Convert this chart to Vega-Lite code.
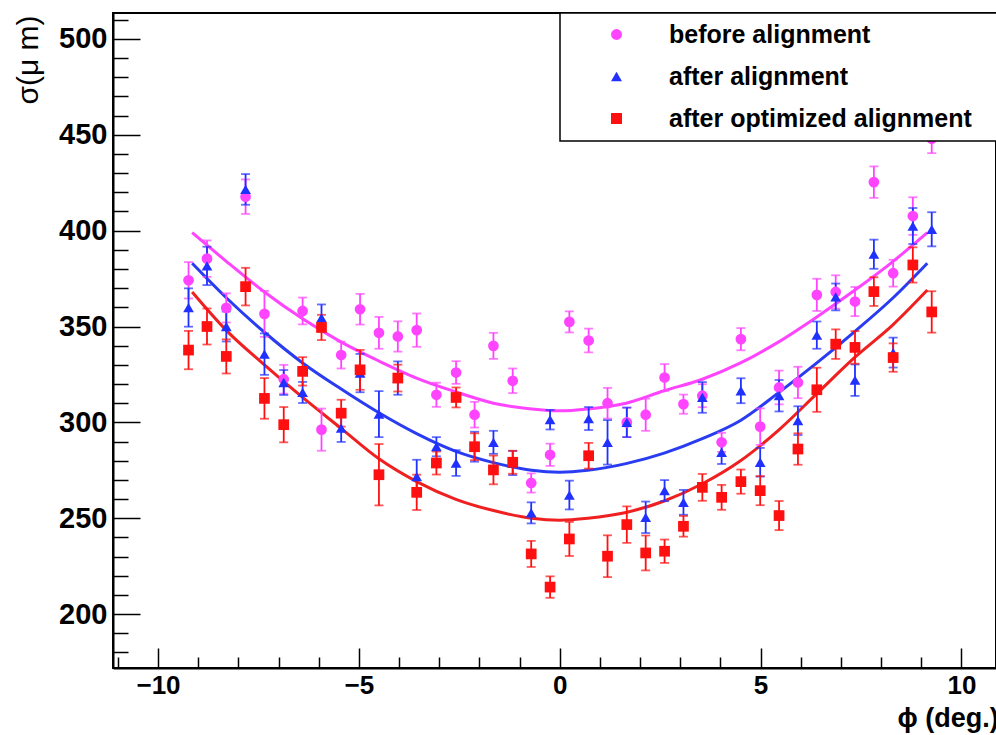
{
  "$schema": "https://vega.github.io/schema/vega-lite/v6.json",
  "autosize": "none",
  "width": 883,
  "height": 655,
  "padding": {"left": 113, "top": 13, "right": 0, "bottom": 67},
  "background": "white",
  "config": {
    "view": {"stroke": "black", "strokeWidth": 2},
    "font": "Liberation Sans",
    "legend": {"strokeColor": "black", "strokeWidth": 1.5},
    "axis": {"labelOverlap": false}
  },
  "datasets": {
    "pts": [
      {"s": "before alignment", "x": -9.24, "y": 374.1, "e": 9.5},
      {"s": "before alignment", "x": -8.78, "y": 385.4, "e": 9.5},
      {"s": "before alignment", "x": -8.30, "y": 359.7, "e": 7.6},
      {"s": "before alignment", "x": -7.82, "y": 417.7, "e": 9},
      {"s": "before alignment", "x": -7.35, "y": 356.6, "e": 12},
      {"s": "before alignment", "x": -6.87, "y": 322.5, "e": 7.5},
      {"s": "before alignment", "x": -6.40, "y": 358.1, "e": 7},
      {"s": "before alignment", "x": -5.93, "y": 296.2, "e": 11},
      {"s": "before alignment", "x": -5.44, "y": 335.1, "e": 7},
      {"s": "before alignment", "x": -4.97, "y": 359.0, "e": 8},
      {"s": "before alignment", "x": -4.50, "y": 346.7, "e": 8.3},
      {"s": "before alignment", "x": -4.03, "y": 344.8, "e": 7.9},
      {"s": "before alignment", "x": -3.56, "y": 348.1, "e": 8.7},
      {"s": "before alignment", "x": -3.07, "y": 314.4, "e": 6.3},
      {"s": "before alignment", "x": -2.58, "y": 326.0, "e": 5.9},
      {"s": "before alignment", "x": -2.12, "y": 304.0, "e": 6.7},
      {"s": "before alignment", "x": -1.65, "y": 339.9, "e": 6.8},
      {"s": "before alignment", "x": -1.17, "y": 321.7, "e": 6.4},
      {"s": "before alignment", "x": -0.71, "y": 268.4, "e": 5},
      {"s": "before alignment", "x": -0.24, "y": 283.1, "e": 5.8},
      {"s": "before alignment", "x": 0.24, "y": 352.4, "e": 5.5},
      {"s": "before alignment", "x": 0.72, "y": 342.7, "e": 6.2},
      {"s": "before alignment", "x": 1.19, "y": 310.0, "e": 8},
      {"s": "before alignment", "x": 1.67, "y": 300.0, "e": 7.7},
      {"s": "before alignment", "x": 2.14, "y": 304.0, "e": 8.4},
      {"s": "before alignment", "x": 2.61, "y": 323.4, "e": 7},
      {"s": "before alignment", "x": 3.08, "y": 309.5, "e": 5},
      {"s": "before alignment", "x": 3.55, "y": 313.9, "e": 6},
      {"s": "before alignment", "x": 4.03, "y": 289.6, "e": 5},
      {"s": "before alignment", "x": 4.51, "y": 343.4, "e": 5.8},
      {"s": "before alignment", "x": 4.99, "y": 297.8, "e": 9.5},
      {"s": "before alignment", "x": 5.46, "y": 318.2, "e": 8.8},
      {"s": "before alignment", "x": 5.93, "y": 320.8, "e": 8.2},
      {"s": "before alignment", "x": 6.40, "y": 366.5, "e": 8.4},
      {"s": "before alignment", "x": 6.87, "y": 368.0, "e": 8.7},
      {"s": "before alignment", "x": 7.35, "y": 363.0, "e": 7.6},
      {"s": "before alignment", "x": 7.82, "y": 425.3, "e": 8.2},
      {"s": "before alignment", "x": 8.30, "y": 377.8, "e": 7},
      {"s": "before alignment", "x": 8.79, "y": 407.6, "e": 9.8},
      {"s": "before alignment", "x": 9.26, "y": 447.9, "e": 7.5},
      {"s": "after alignment", "x": -9.24, "y": 359.9, "e": 10},
      {"s": "after alignment", "x": -8.78, "y": 381.6, "e": 10},
      {"s": "after alignment", "x": -8.30, "y": 350.0, "e": 7.8},
      {"s": "after alignment", "x": -7.82, "y": 421.5, "e": 8},
      {"s": "after alignment", "x": -7.35, "y": 335.6, "e": 10.8},
      {"s": "after alignment", "x": -6.87, "y": 320.8, "e": 6.5},
      {"s": "after alignment", "x": -6.40, "y": 315.6, "e": 5.5},
      {"s": "after alignment", "x": -5.93, "y": 354.5, "e": 7},
      {"s": "after alignment", "x": -5.44, "y": 297.0, "e": 7.2},
      {"s": "after alignment", "x": -4.97, "y": 325.7, "e": 10},
      {"s": "after alignment", "x": -4.50, "y": 304.3, "e": 12},
      {"s": "after alignment", "x": -4.03, "y": 323.1, "e": 8.7},
      {"s": "after alignment", "x": -3.56, "y": 271.7, "e": 8.8},
      {"s": "after alignment", "x": -3.07, "y": 287.3, "e": 5},
      {"s": "after alignment", "x": -2.58, "y": 278.8, "e": 6.7},
      {"s": "after alignment", "x": -2.12, "y": 287.3, "e": 7.8},
      {"s": "after alignment", "x": -1.65, "y": 289.6, "e": 6},
      {"s": "after alignment", "x": -1.17, "y": 278.8, "e": 6.3},
      {"s": "after alignment", "x": -0.71, "y": 252.8, "e": 5.5},
      {"s": "after alignment", "x": -0.24, "y": 301.4, "e": 5.1},
      {"s": "after alignment", "x": 0.24, "y": 262.1, "e": 7.5},
      {"s": "after alignment", "x": 0.72, "y": 302.0, "e": 6},
      {"s": "after alignment", "x": 1.19, "y": 289.6, "e": 11.6},
      {"s": "after alignment", "x": 1.67, "y": 300.0, "e": 7.7},
      {"s": "after alignment", "x": 2.14, "y": 250.5, "e": 8.2},
      {"s": "after alignment", "x": 2.61, "y": 264.4, "e": 5.5},
      {"s": "after alignment", "x": 3.08, "y": 258.3, "e": 6.5},
      {"s": "after alignment", "x": 3.55, "y": 313.0, "e": 8},
      {"s": "after alignment", "x": 4.03, "y": 284.3, "e": 6},
      {"s": "after alignment", "x": 4.51, "y": 316.5, "e": 6.5},
      {"s": "after alignment", "x": 4.99, "y": 279.2, "e": 7.5},
      {"s": "after alignment", "x": 5.46, "y": 313.9, "e": 8.2},
      {"s": "after alignment", "x": 5.93, "y": 300.9, "e": 7.5},
      {"s": "after alignment", "x": 6.40, "y": 345.5, "e": 7.1},
      {"s": "after alignment", "x": 6.87, "y": 365.4, "e": 7},
      {"s": "after alignment", "x": 7.35, "y": 322.0, "e": 8.2},
      {"s": "after alignment", "x": 7.82, "y": 387.7, "e": 7.6},
      {"s": "after alignment", "x": 8.30, "y": 336.4, "e": 7.8},
      {"s": "after alignment", "x": 8.79, "y": 402.4, "e": 9.4},
      {"s": "after alignment", "x": 9.26, "y": 400.7, "e": 8.9},
      {"s": "after optimized alignment", "x": -9.24, "y": 337.7, "e": 10},
      {"s": "after optimized alignment", "x": -8.78, "y": 350.0, "e": 9.4},
      {"s": "after optimized alignment", "x": -8.30, "y": 334.4, "e": 8.9},
      {"s": "after optimized alignment", "x": -7.82, "y": 370.8, "e": 9.8},
      {"s": "after optimized alignment", "x": -7.35, "y": 312.5, "e": 10.6},
      {"s": "after optimized alignment", "x": -6.87, "y": 298.8, "e": 9.2},
      {"s": "after optimized alignment", "x": -6.40, "y": 326.6, "e": 7.4},
      {"s": "after optimized alignment", "x": -5.93, "y": 349.5, "e": 6.6},
      {"s": "after optimized alignment", "x": -5.44, "y": 304.8, "e": 7},
      {"s": "after optimized alignment", "x": -4.97, "y": 327.4, "e": 10.4},
      {"s": "after optimized alignment", "x": -4.50, "y": 272.7, "e": 16},
      {"s": "after optimized alignment", "x": -4.03, "y": 323.1, "e": 7},
      {"s": "after optimized alignment", "x": -3.56, "y": 263.5, "e": 9.2},
      {"s": "after optimized alignment", "x": -3.07, "y": 278.8, "e": 6},
      {"s": "after optimized alignment", "x": -2.58, "y": 313.0, "e": 5.2},
      {"s": "after optimized alignment", "x": -2.12, "y": 287.3, "e": 7},
      {"s": "after optimized alignment", "x": -1.65, "y": 275.2, "e": 7.5},
      {"s": "after optimized alignment", "x": -1.17, "y": 279.2, "e": 6},
      {"s": "after optimized alignment", "x": -0.71, "y": 231.4, "e": 6.8},
      {"s": "after optimized alignment", "x": -0.24, "y": 214.1, "e": 5.6},
      {"s": "after optimized alignment", "x": 0.24, "y": 239.2, "e": 8.9},
      {"s": "after optimized alignment", "x": 0.72, "y": 282.6, "e": 6.7},
      {"s": "after optimized alignment", "x": 1.19, "y": 230.2, "e": 10.9},
      {"s": "after optimized alignment", "x": 1.67, "y": 246.7, "e": 9.5},
      {"s": "after optimized alignment", "x": 2.14, "y": 231.9, "e": 9.1},
      {"s": "after optimized alignment", "x": 2.61, "y": 232.8, "e": 6.1},
      {"s": "after optimized alignment", "x": 3.08, "y": 245.8, "e": 5.4},
      {"s": "after optimized alignment", "x": 3.55, "y": 266.1, "e": 7},
      {"s": "after optimized alignment", "x": 4.03, "y": 260.9, "e": 6.5},
      {"s": "after optimized alignment", "x": 4.51, "y": 269.1, "e": 6.3},
      {"s": "after optimized alignment", "x": 4.99, "y": 264.4, "e": 7.6},
      {"s": "after optimized alignment", "x": 5.46, "y": 251.4, "e": 7.6},
      {"s": "after optimized alignment", "x": 5.93, "y": 286.1, "e": 8.2},
      {"s": "after optimized alignment", "x": 6.40, "y": 317.0, "e": 11.5},
      {"s": "after optimized alignment", "x": 6.87, "y": 340.8, "e": 7.7},
      {"s": "after optimized alignment", "x": 7.35, "y": 339.1, "e": 8.5},
      {"s": "after optimized alignment", "x": 7.82, "y": 368.2, "e": 7.5},
      {"s": "after optimized alignment", "x": 8.30, "y": 333.8, "e": 7.4},
      {"s": "after optimized alignment", "x": 8.79, "y": 382.1, "e": 9.2},
      {"s": "after optimized alignment", "x": 9.26, "y": 357.6, "e": 10.8}
    ],
    "fits": [
      {"s": "before alignment", "x": -9.15, "y": 399},
      {"s": "before alignment", "x": -8.3, "y": 384},
      {"s": "before alignment", "x": -7.35, "y": 368},
      {"s": "before alignment", "x": -6.4, "y": 354},
      {"s": "before alignment", "x": -5.45, "y": 342},
      {"s": "before alignment", "x": -4.5, "y": 332},
      {"s": "before alignment", "x": -3.55, "y": 323},
      {"s": "before alignment", "x": -2.6, "y": 316},
      {"s": "before alignment", "x": -1.65, "y": 310},
      {"s": "before alignment", "x": -0.7, "y": 307},
      {"s": "before alignment", "x": 0, "y": 306},
      {"s": "before alignment", "x": 0.7, "y": 307},
      {"s": "before alignment", "x": 1.65, "y": 310},
      {"s": "before alignment", "x": 2.6, "y": 316.5},
      {"s": "before alignment", "x": 3.55, "y": 322.5},
      {"s": "before alignment", "x": 4.5, "y": 331},
      {"s": "before alignment", "x": 5.45, "y": 342},
      {"s": "before alignment", "x": 6.4, "y": 355},
      {"s": "before alignment", "x": 7.35, "y": 369},
      {"s": "before alignment", "x": 8.3, "y": 384},
      {"s": "before alignment", "x": 9.15, "y": 399},
      {"s": "after alignment", "x": -9.15, "y": 383},
      {"s": "after alignment", "x": -8.3, "y": 365},
      {"s": "after alignment", "x": -7.35, "y": 347},
      {"s": "after alignment", "x": -6.4, "y": 331},
      {"s": "after alignment", "x": -5.45, "y": 317.5},
      {"s": "after alignment", "x": -4.5, "y": 305},
      {"s": "after alignment", "x": -3.55, "y": 294},
      {"s": "after alignment", "x": -2.6, "y": 285},
      {"s": "after alignment", "x": -1.65, "y": 279},
      {"s": "after alignment", "x": -0.7, "y": 275},
      {"s": "after alignment", "x": 0, "y": 274},
      {"s": "after alignment", "x": 0.7, "y": 275},
      {"s": "after alignment", "x": 1.65, "y": 278.5},
      {"s": "after alignment", "x": 2.6, "y": 284},
      {"s": "after alignment", "x": 3.55, "y": 291.5},
      {"s": "after alignment", "x": 4.5, "y": 301},
      {"s": "after alignment", "x": 5.45, "y": 315.5},
      {"s": "after alignment", "x": 6.4, "y": 331},
      {"s": "after alignment", "x": 7.35, "y": 347.5},
      {"s": "after alignment", "x": 8.3, "y": 365},
      {"s": "after alignment", "x": 9.15, "y": 383},
      {"s": "after optimized alignment", "x": -9.15, "y": 368},
      {"s": "after optimized alignment", "x": -8.3, "y": 348},
      {"s": "after optimized alignment", "x": -7.35, "y": 330},
      {"s": "after optimized alignment", "x": -6.4, "y": 313},
      {"s": "after optimized alignment", "x": -5.45, "y": 297},
      {"s": "after optimized alignment", "x": -4.5, "y": 281},
      {"s": "after optimized alignment", "x": -3.55, "y": 269},
      {"s": "after optimized alignment", "x": -2.6, "y": 260},
      {"s": "after optimized alignment", "x": -1.65, "y": 254},
      {"s": "after optimized alignment", "x": -0.7, "y": 250},
      {"s": "after optimized alignment", "x": 0, "y": 249},
      {"s": "after optimized alignment", "x": 0.7, "y": 250},
      {"s": "after optimized alignment", "x": 1.65, "y": 253},
      {"s": "after optimized alignment", "x": 2.6, "y": 259},
      {"s": "after optimized alignment", "x": 3.55, "y": 268},
      {"s": "after optimized alignment", "x": 4.5, "y": 280},
      {"s": "after optimized alignment", "x": 5.45, "y": 296},
      {"s": "after optimized alignment", "x": 6.4, "y": 315},
      {"s": "after optimized alignment", "x": 7.35, "y": 334},
      {"s": "after optimized alignment", "x": 8.3, "y": 351},
      {"s": "after optimized alignment", "x": 9.15, "y": 369}
    ]
  },
  "resolve": {"axis": {"y": "independent"}},
  "layer": [
    {
      "data": {"name": "fits"},
      "transform": [{"filter": "datum.s === 'before alignment'"}],
      "mark": {"type": "line", "strokeWidth": 3, "interpolate": "monotone", "color": "#ff44ff"},
      "encoding": {
        "x": {"field": "x", "type": "quantitative", "title": "ϕ (deg.)", "scale": {"domain": [-11.12, 10.86], "nice": false, "zero": false},
          "axis": {
            "values": [-11, -10, -9, -8, -7, -6, -5, -4, -3, -2, -1, 0, 1, 2, 3, 4, 5, 6, 7, 8, 9, 10],
            "tickSize": {"condition": {"test": "datum.value % 5 === 0", "value": -20}, "value": -11},
            "labelExpr": "datum.value % 5 === 0 ? datum.label : ''",
            "labelOverlap": false, "labelFlush": false,
            "labelFont": "Liberation Sans", "labelFontWeight": "bold", "labelFontSize": 26, "labelColor": "black",
            "labelPadding": 24,
            "tickColor": "black", "tickWidth": 1.5, "domainColor": "black", "domainWidth": 2, "grid": false,
            "titleFont": "Liberation Sans", "titleFontWeight": "bold", "titleFontSize": 27, "titleColor": "black",
            "titleAnchor": "start", "titleAlign": "left", "titleX": 784, "titleY": 58, "titleBaseline": "alphabetic"
          }},
        "y": {"field": "y", "type": "quantitative", "title": "σ(μ m)", "scale": {"domain": [171.9, 513.5], "nice": false, "zero": false},
          "axis": {
            "orient": "left",
            "values": [200, 250, 300, 350, 400, 450, 500],
            "tickSize": -27,
            "labelOverlap": false, "labelFlush": false,
            "labelFont": "Liberation Sans", "labelFontWeight": "bold", "labelFontSize": 29, "labelColor": "black",
            "labelPadding": 33,
            "tickColor": "black", "tickWidth": 1.5, "domainColor": "black", "domainWidth": 2, "grid": false,
            "titleFont": "Liberation Sans", "titleFontWeight": "normal", "titleFontSize": 30, "titleColor": "black",
            "titleAngle": 270, "titleAnchor": "start", "titleAlign": "right", "titleX": -76, "titleY": 2, "titleBaseline": "alphabetic"
          }}
      }
    },
    {
      "data": {"name": "fits"},
      "transform": [{"filter": "datum.s === 'after alignment'"}],
      "mark": {"type": "line", "strokeWidth": 3, "interpolate": "monotone", "color": "#2a3cf2"},
      "encoding": {
        "x": {"field": "x", "type": "quantitative", "title": "ϕ (deg.)"},
        "y": {"field": "y", "type": "quantitative", "axis": null}
      }
    },
    {
      "data": {"name": "fits"},
      "transform": [{"filter": "datum.s === 'after optimized alignment'"}],
      "mark": {"type": "line", "strokeWidth": 3, "interpolate": "monotone", "color": "#f02020"},
      "encoding": {
        "x": {"field": "x", "type": "quantitative", "title": "ϕ (deg.)"},
        "y": {"field": "y", "type": "quantitative", "axis": null}
      }
    },
    {
      "data": {"name": "pts"},
      "transform": [{"filter": "datum.s === 'before alignment'"}],
      "mark": {"type": "errorbar", "ticks": true, "size": 9, "thickness": 1.8, "color": "#ff44ff"},
      "encoding": {
        "x": {"field": "x", "type": "quantitative", "title": "ϕ (deg.)"},
        "y": {"field": "y", "type": "quantitative", "axis": null},
        "yError": {"field": "e"}
      }
    },
    {
      "data": {"name": "pts"},
      "transform": [{"filter": "datum.s === 'after alignment'"}],
      "mark": {"type": "errorbar", "ticks": true, "size": 9, "thickness": 1.8, "color": "#2030ff"},
      "encoding": {
        "x": {"field": "x", "type": "quantitative", "title": "ϕ (deg.)"},
        "y": {"field": "y", "type": "quantitative", "axis": null},
        "yError": {"field": "e"}
      }
    },
    {
      "data": {"name": "pts"},
      "transform": [{"filter": "datum.s === 'after optimized alignment'"}],
      "mark": {"type": "errorbar", "ticks": true, "size": 9, "thickness": 1.8, "color": "#ff1010"},
      "encoding": {
        "x": {"field": "x", "type": "quantitative", "title": "ϕ (deg.)"},
        "y": {"field": "y", "type": "quantitative", "axis": null},
        "yError": {"field": "e"}
      }
    },
    {
      "data": {"name": "pts"},
      "mark": {"type": "point", "filled": true, "opacity": 1, "size": 115},
      "encoding": {
        "x": {"field": "x", "type": "quantitative", "title": "ϕ (deg.)"},
        "y": {"field": "y", "type": "quantitative",
          "axis": {
            "orient": "left", "title": null, "labels": false, "domain": false, "grid": false,
            "values": [180, 190, 210, 220, 230, 240, 260, 270, 280, 290, 310, 320, 330, 340, 360, 370, 380, 390, 410, 420, 430, 440, 460, 470, 480, 490, 510],
            "tickSize": -15, "tickColor": "black", "tickWidth": 1.5
          }},
        "color": {"field": "s", "type": "nominal",
          "scale": {"domain": ["before alignment", "after alignment", "after optimized alignment"], "range": ["#ff44ff", "#2030ff", "#ff1010"]},
          "legend": {
            "orient": "none", "legendX": 447, "legendY": 0,
            "title": " ", "titleOrient": "right", "titlePadding": 22, "titleFontSize": 1,
            "fillColor": "white", "cornerRadius": 0,
            "padding": 9, "symbolOffset": 35, "labelOffset": 40, "rowPadding": 16,
            "labelFont": "Liberation Sans", "labelFontWeight": "bold", "labelFontSize": 25, "labelColor": "black",
            "labelLimit": 500, "symbolSize": 120, "symbolOpacity": 1
          }},
        "shape": {"field": "s", "type": "nominal",
          "scale": {"domain": ["before alignment", "after alignment", "after optimized alignment"], "range": ["circle", "triangle-up", "square"]}}
      }
    }
  ]
}
